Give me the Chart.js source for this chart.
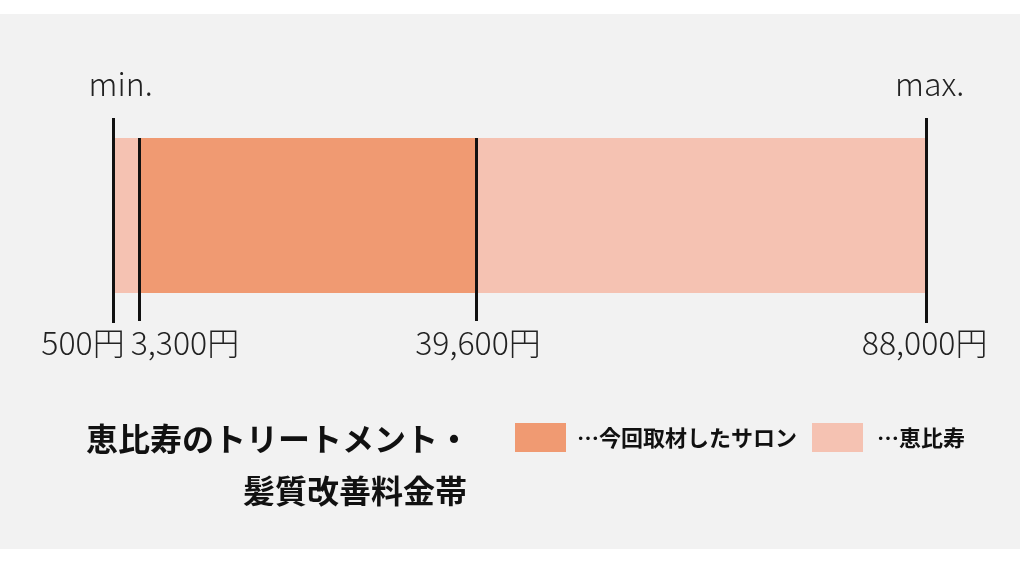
<!DOCTYPE html>
<html>
<head>
<meta charset="utf-8">
<script src="https://cdn.jsdelivr.net/npm/chart.js@4"></script>
<style>
  html, body { margin: 0; padding: 0; background: #ffffff; }
  #wrap { width: 1024px; height: 562px; }
</style>
</head>
<body>
<div id="wrap"><canvas id="c" width="1024" height="562"></canvas></div>
<script>
// ---- data ----
const categories = ['髪質改善料金帯'];
const ebisuRange = [500, 88000];      // 恵比寿
const salonRange = [3300, 39600];     // 今回取材したサロン
const markerValues = [500, 3300, 39600, 88000];
const markerLabels = ['500円', '3,300円', '39,600円', '88,000円'];
const endLabels = ['min.', 'max.'];
const seriesNames = ['…今回取材したサロン', '…恵比寿'];
const titleLines = ['恵比寿のトリートメント・', '髪質改善料金帯'];
const axisMin = 320;
const axisMax = 88040;

const COLOR_SALON = '#f09a72';
const COLOR_EBISU = '#f5c2b2';
const FONT = '"Noto Sans CJK JP", "Noto Sans", sans-serif';

const decorPlugin = {
  id: 'decor',
  beforeDraw(chart) {
    const ctx = chart.ctx;
    ctx.save();
    ctx.fillStyle = '#ffffff';
    ctx.fillRect(0, 0, chart.width, chart.height);
    ctx.fillStyle = '#f2f2f2';
    ctx.fillRect(0, 14, 1020, 535);
    ctx.restore();
  },
  afterDatasetsDraw(chart) {
    const ctx = chart.ctx;
    const xs = chart.scales.x;
    const area = chart.chartArea;
    ctx.save();
    // marker lines
    ctx.strokeStyle = '#111111';
    ctx.lineWidth = 3;
    markerValues.forEach((v, i) => {
      const x = Math.round(xs.getPixelForValue(v)) - 0.5;
      const outer = (i === 0 || i === markerValues.length - 1);
      const top = outer ? area.top - 20 : area.top;
      const bottom = area.bottom + (outer ? 30 : 28);
      ctx.beginPath();
      ctx.moveTo(x, top);
      ctx.lineTo(x, bottom);
      ctx.stroke();
    });
    // value labels
    ctx.fillStyle = '#222222';
    ctx.font = '300 32px ' + FONT;
    ctx.textBaseline = 'middle';
    markerLabels.forEach((t, i) => {
      const x = xs.getPixelForValue(markerValues[i]);
      if (i === 0) { ctx.textAlign = 'right'; ctx.fillText(t, x + 11, 343); }
      else if (i === 1) { ctx.textAlign = 'left'; ctx.fillText(t, x - 9, 343); }
      else if (i === markerLabels.length - 1) { ctx.textAlign = 'center'; ctx.fillText(t, x - 2, 343); }
      else { ctx.textAlign = 'center'; ctx.fillText(t, x + 1, 343); }
    });
    // min / max
    ctx.font = '300 32px ' + FONT;
    ctx.textAlign = 'center';
    ctx.fillText(endLabels[0], xs.getPixelForValue(markerValues[0]) + 7, 84);
    ctx.fillText(endLabels[1], xs.getPixelForValue(markerValues[markerValues.length - 1]) + 3, 84);
    // title
    ctx.fillStyle = '#111111';
    ctx.font = 'bold 32px ' + FONT;
    ctx.textAlign = 'left';
    ctx.fillText(titleLines[0], 86, 439);
    ctx.fillText(titleLines[1], 243, 491);
    // legend
    const sw = [[515, COLOR_SALON, 577], [812, COLOR_EBISU, 877]];
    ctx.font = 'bold 22px ' + FONT;
    sw.forEach((s, i) => {
      ctx.fillStyle = s[1];
      ctx.fillRect(s[0], 423, 51, 29);
      ctx.fillStyle = '#111111';
      ctx.fillText(seriesNames[i], s[2], 438);
    });
    ctx.restore();
  }
};

new Chart(document.getElementById('c'), {
  type: 'bar',
  data: {
    labels: categories,
    datasets: [
      { label: seriesNames[0], data: [salonRange], backgroundColor: COLOR_SALON, grouped: false, barPercentage: 1, categoryPercentage: 1, borderWidth: 0 },
      { label: seriesNames[1], data: [ebisuRange], backgroundColor: COLOR_EBISU, grouped: false, barPercentage: 1, categoryPercentage: 1, borderWidth: 0 }
    ]
  },
  options: {
    indexAxis: 'y',
    responsive: false,
    animation: false,
    layout: { padding: { left: 112, right: 97, top: 138, bottom: 269 } },
    scales: {
      x: { type: 'linear', min: axisMin, max: axisMax, display: false },
      y: { display: false }
    },
    plugins: {
      legend: { display: false },
      tooltip: { enabled: false },
      title: { display: false }
    }
  },
  plugins: [decorPlugin]
});
</script>
</body>
</html>
